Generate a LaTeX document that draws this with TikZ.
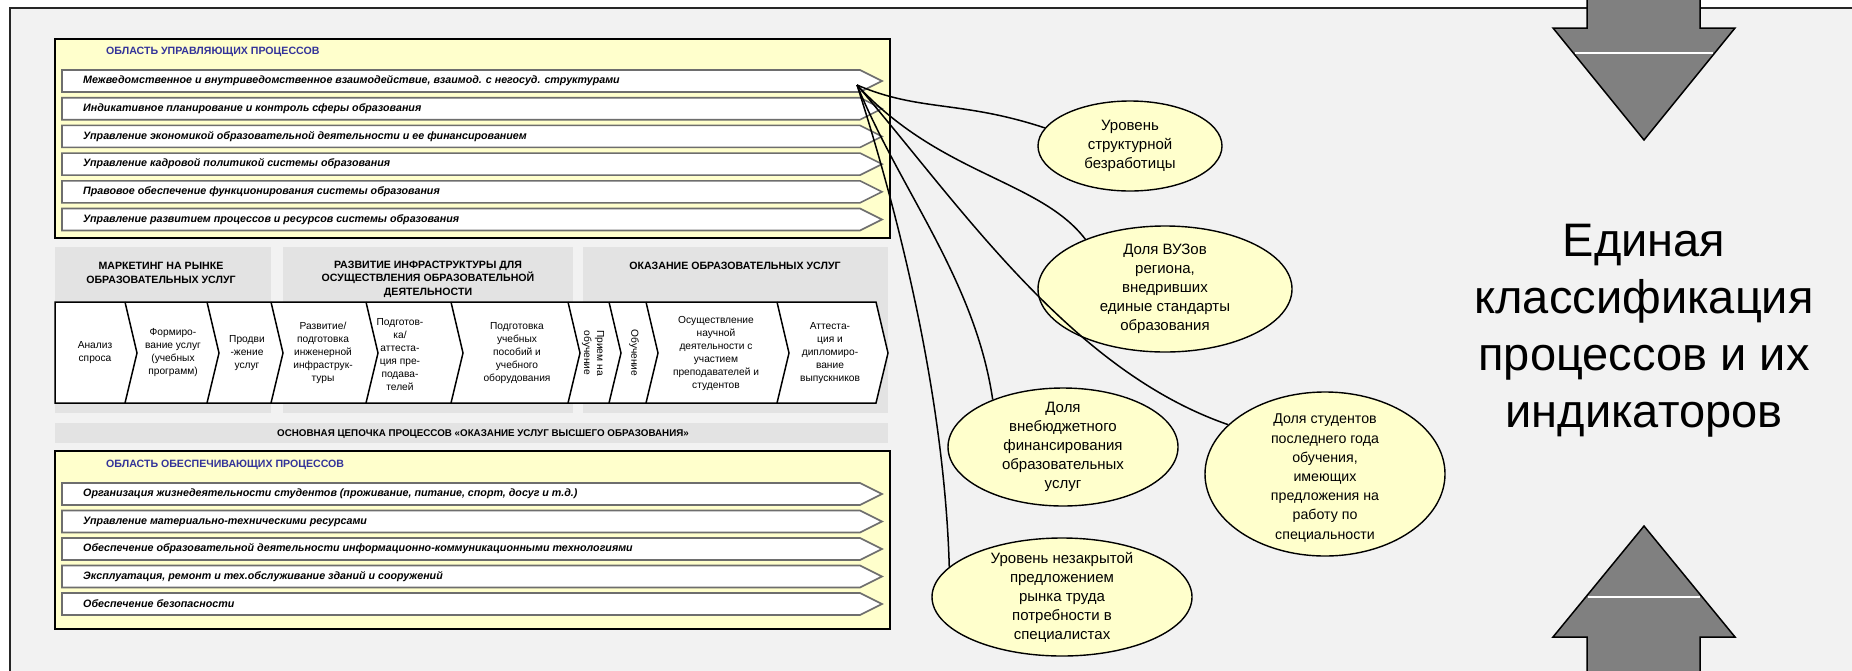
\documentclass[tikz,border=0pt]{standalone}
\usepackage{fontspec}
\setmainfont{Liberation Sans}
\usetikzlibrary{shapes.geometric}
\definecolor{bgc}{HTML}{F2F2F2}
\definecolor{hdrgray}{HTML}{E3E3E3}
\definecolor{ylw}{HTML}{FFFFCC}
\definecolor{navy}{HTML}{333399}
\definecolor{arrgray}{HTML}{808080}
\definecolor{bargray}{HTML}{6E6E6E}
\newcommand\pbar[3]{%
  \draw[procbar] (62,#2-11) -- (860,#2-11) -- (882,#2) -- (860,#2+11) -- (62,#2+11) -- cycle;
  \node[bartext] (#1) at (83,#2) {#3};}
\begin{document}
\begin{tikzpicture}[x=1pt,y=-1pt,
  procbar/.style={draw=bargray, fill=white, line width=1.6pt},
  bartext/.style={anchor=west, inner sep=0pt, font=\fontsize{10.7}{12}\selectfont\bfseries\itshape},
  ybox/.style={draw=black, fill=ylw, line width=1.5pt},
  areatitle/.style={anchor=west, inner sep=0pt, text=navy, font=\fontsize{10.6}{12}\selectfont\bfseries},
  hdrbox/.style={fill=hdrgray, draw=none},
  hdrtext/.style={align=center, inner sep=0pt, font=\fontsize{10.6}{13.6}\selectfont\bfseries},
  chainshape/.style={draw=black, fill=white, line width=1.5pt, line join=miter},
  chainline/.style={draw=black, line width=1.5pt},
  segtext/.style={align=center, inner sep=0pt, font=\fontsize{10.2}{13}\selectfont},
  indic/.style={ellipse, draw=black, fill=ylw, line width=1.4pt, inner sep=0pt},
  indtext/.style={align=center, inner sep=0pt, font=\fontsize{15}{19}\selectfont},
  conn/.style={draw=black, line width=1.5pt},
  bigarrow/.style={draw=black, fill=arrgray, line width=1.5pt, line join=miter}
]
\clip (0,0) rectangle (1852,670);
\useasboundingbox (0,0) rectangle (1852,670);
\fill[white] (0,0) rectangle (1852,670);
% frame
\draw[fill=bgc, draw=black!85, line width=2.2pt] (10,8) rectangle (1890,710);

% management area
\draw[ybox] (55,39) rectangle (890,238);
\node[areatitle] (tman) at (106,52) {ОБЛАСТЬ УПРАВЛЯЮЩИХ ПРОЦЕССОВ};
\pbar{m1}{81}{Межведомственное и внутриведомственное взаимодействие, взаимод. с негосуд. структурами}
\pbar{m2}{108.7}{Индикативное планирование и контроль сферы образования}
\pbar{m3}{136.4}{Управление экономикой образовательной деятельности и ее финансированием}
\pbar{m4}{164.1}{Управление кадровой политикой системы образования}
\pbar{m5}{191.8}{Правовое обеспечение функционирования системы образования}
\pbar{m6}{219.5}{Управление развитием процессов и ресурсов системы образования}

% header regions
\fill[hdrbox] (55,247) rectangle (271,413);
\fill[hdrbox] (283,247) rectangle (573,413);
\fill[hdrbox] (583,247) rectangle (888,413);
\node[hdrtext] (h1) at (161,273) {МАРКЕТИНГ НА РЫНКЕ\\ОБРАЗОВАТЕЛЬНЫХ УСЛУГ};
\node[hdrtext] (h2) at (428,279) {РАЗВИТИЕ ИНФРАСТРУКТУРЫ ДЛЯ\\ОСУЩЕСТВЛЕНИЯ ОБРАЗОВАТЕЛЬНОЙ\\ДЕЯТЕЛЬНОСТИ};
\node[hdrtext] (h3) at (735,266) {ОКАЗАНИЕ ОБРАЗОВАТЕЛЬНЫХ УСЛУГ};

% chain
\draw[chainshape] (55,302) -- (876,302) -- (888,353) -- (876,403) -- (55,403) -- cycle;
\foreach \a in {125,207,271,366,451,568,609,646,777}
  \draw[chainline] (\a,302) -- (\a+12,353) -- (\a,403);
\node[segtext] (s1) at (95,353) {Анализ\\спроса};
\node[segtext] (s2) at (173,353) {Формиро-\\вание услуг\\(учебных\\программ)};
\node[segtext] (s3) at (247,353) {Продви\\-жение\\услуг};
\node[segtext] (s4) at (323,353) {Развитие/\\подготовка\\инженерной\\инфраструк-\\туры};
\node[segtext] (s5) at (400,355) {Подготов-\\ка/\\аттеста-\\ция пре-\\подава-\\телей};
\node[segtext] (s6) at (517,353) {Подготовка\\учебных\\пособий и\\учебного\\оборудования};
\node[segtext, rotate=-90] (s7) at (593,353) {Прием на\\обучение};
\node[segtext, rotate=-90] (s8) at (634,353) {Обучение};
\node[segtext] (s9) at (716,353) {Осуществление\\научной\\деятельности с\\участием\\преподавателей и\\студентов};
\node[segtext] (s10) at (830,353) {Аттеста-\\ция и\\дипломиро-\\вание\\выпускников};

% chain label band
\fill[hdrbox] (55,423) rectangle (888,443);
\node[hdrtext, font=\fontsize{9.8}{11}\selectfont\bfseries] (chainlbl) at (483,434) {ОСНОВНАЯ ЦЕПОЧКА ПРОЦЕССОВ «ОКАЗАНИЕ УСЛУГ ВЫСШЕГО ОБРАЗОВАНИЯ»};

% support area
\draw[ybox] (55,451) rectangle (890,629);
\node[areatitle] (tsup) at (106,465) {ОБЛАСТЬ ОБЕСПЕЧИВАЮЩИХ ПРОЦЕССОВ};
\pbar{p1}{494}{Организация жизнедеятельности студентов (проживание, питание, спорт, досуг и т.д.)}
\pbar{p2}{521.5}{Управление материально-техническими ресурсами}
\pbar{p3}{549}{Обеспечение образовательной деятельности информационно-коммуникационными технологиями}
\pbar{p4}{576.5}{Эксплуатация, ремонт и тех.обслуживание зданий и сооружений}
\pbar{p5}{604}{Обеспечение безопасности}

% indicators
\coordinate (hub) at (857,85);
\node[indic, minimum width=184pt, minimum height=90pt] (e1) at (1130,146) {};
\node[indtext] (e1t) at (e1) {Уровень\\структурной\\безработицы};
\node[indic, minimum width=254pt, minimum height=126pt] (e2) at (1165,289) {};
\node[indtext] (e2t) at (e2) {Доля ВУЗов\\региона,\\внедривших\\единые стандарты\\образования};
\node[indic, minimum width=230pt, minimum height=118pt] (e3) at (1063,447) {};
\node[indtext] (e3t) at (e3) {Доля\\внебюджетного\\финансирования\\образовательных\\услуг};
\node[indic, minimum width=260pt, minimum height=118pt] (e4) at (1062,597) {};
\node[indtext] (e4t) at (e4) {Уровень незакрытой\\предложением\\рынка труда\\потребности в\\специалистах};
\node[indic, minimum width=240pt, minimum height=164pt] (e5) at (1325,474) {};
\node[indtext, font=\fontsize{14.2}{19.2}\selectfont] (e5t) at (1325,478) {Доля студентов\\последнего года\\обучения,\\имеющих\\предложения на\\работу по\\специальности};

\draw[conn] (hub) .. controls (920,112) and (960,100) .. (e1.168);
\draw[conn] (hub) .. controls (940,175) and (1040,180) .. (e2.148);
\draw[conn] (hub) .. controls (960,205) and (1070,370) .. (e5.153);
\draw[conn] (hub) .. controls (900,190) and (975,280) .. (e3.146);
\draw[conn] (hub) .. controls (910,250) and (945,420) .. (e4.165);

% big arrows
\draw[bigarrow] (1587,-5) -- (1587,28) -- (1553,28) -- (1644,140) -- (1735,28) -- (1700,28) -- (1700,-5) -- cycle;
\draw[white, line width=1.3pt] (1575,53) -- (1713,53);
\draw[bigarrow] (1587,680) -- (1587,637) -- (1553,637) -- (1644,526) -- (1735,637) -- (1700,637) -- (1700,680) -- cycle;
\draw[white, line width=1.3pt] (1588,597) -- (1700,597);

% central title
\node[align=center, inner sep=0pt, font=\fontsize{47}{57}\selectfont] (title) at (1644,331) {Единая\\классификация\\процессов и их\\индикаторов};
\end{tikzpicture}
\end{document}
